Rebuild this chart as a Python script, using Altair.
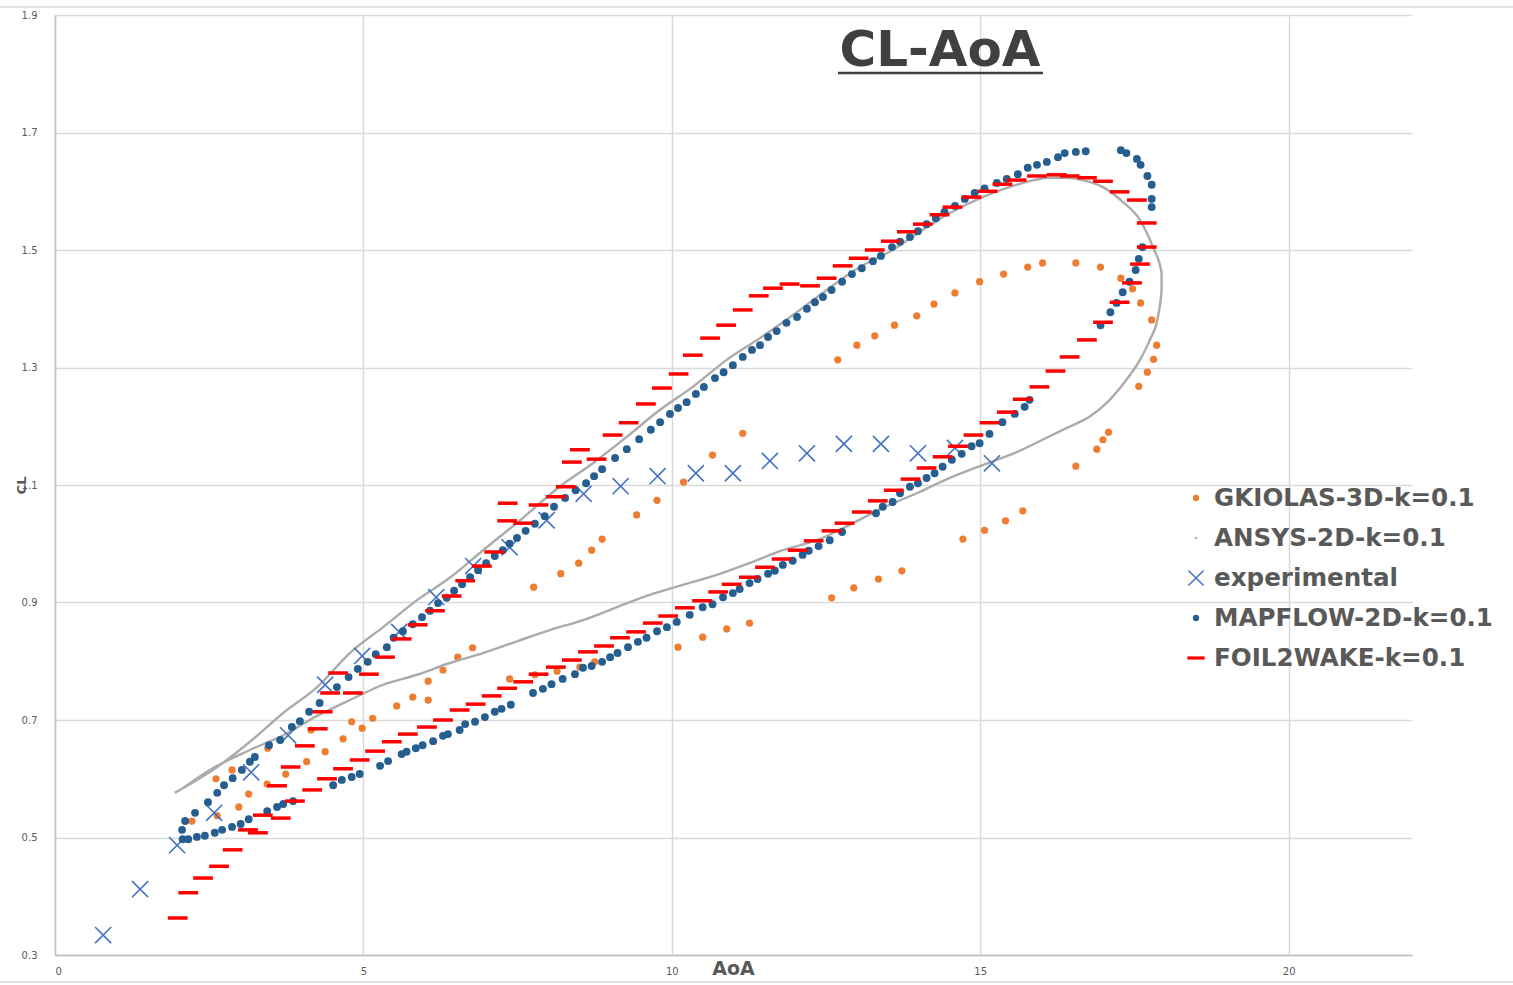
import altair as alt
import pandas as pd

# ---------------- series values (AoA in degrees, CL) ----------------
gkiolas_aoa = [2.22, 2.63, 2.98, 2.61, 2.87, 3.14, 3.44, 3.45, 3.74, 4.08, 4.15, 4.38, 4.67,
               4.81, 4.98, 5.15, 5.54, 5.80, 6.05, 6.05, 6.29, 6.53, 6.77,
               7.37, 7.78, 8.14, 8.51, 8.75,
               7.76, 8.20, 8.49, 8.70, 8.87, 9.43, 9.76, 10.19, 10.66, 11.15,
               10.10, 10.50, 10.89, 11.26,
               12.59, 12.95, 13.35, 13.73,
               14.72, 15.07, 15.41, 15.69,
               12.69, 13.00, 13.29, 13.61, 13.97, 14.25, 14.59, 14.99, 15.38, 15.77, 16.01,
               16.55, 16.95, 17.28, 17.47, 17.60, 17.78, 17.86, 17.81, 17.71, 17.57,
               17.08, 16.99, 16.89, 16.55]
gkiolas_cl = [0.528, 0.537, 0.552, 0.600, 0.615, 0.574, 0.591, 0.652, 0.608, 0.629, 0.683, 0.646, 0.668,
              0.697, 0.686, 0.703, 0.724, 0.739, 0.734, 0.766, 0.785, 0.807, 0.823,
              0.770, 0.777, 0.783, 0.790, 0.799,
              0.926, 0.949, 0.967, 0.989, 1.008, 1.049, 1.074, 1.105, 1.151, 1.188,
              0.824, 0.841, 0.855, 0.865,
              0.908, 0.925, 0.940, 0.954,
              1.008, 1.023, 1.039, 1.056,
              1.313, 1.338, 1.354, 1.372, 1.388, 1.408, 1.427, 1.446, 1.459, 1.471, 1.478,
              1.478, 1.471, 1.452, 1.434, 1.410, 1.381, 1.338, 1.314, 1.292, 1.268,
              1.190, 1.177, 1.161, 1.132]

ansys_aoa = [1.94, 2.63, 3.16, 3.70, 4.25, 4.78, 5.32, 5.87, 6.40, 6.94, 7.54, 8.18, 8.72,
             9.27, 9.81, 10.34, 10.89, 11.43, 11.96, 12.51, 13.05, 13.58, 14.02, 14.51,
             15.04, 15.59, 16.13, 16.40, 16.66, 16.99, 17.31, 17.59, 17.80, 17.94, 17.94,
             17.88, 17.75, 17.59, 17.37, 17.10, 16.77, 16.40, 16.01, 15.59, 15.04, 14.51,
             13.97, 13.42, 12.88, 12.35, 11.80, 11.26, 10.73, 10.18, 9.64, 9.11, 8.56,
             8.02, 7.49, 6.94, 6.40, 5.87, 5.32, 4.78, 4.25, 3.70, 3.16, 2.51, 2.03]
ansys_cl = [0.576, 0.620, 0.663, 0.712, 0.756, 0.814, 0.858, 0.904, 0.942, 0.989, 1.040, 1.097, 1.137,
            1.182, 1.228, 1.267, 1.313, 1.350, 1.389, 1.432, 1.471, 1.500, 1.531, 1.563,
            1.590, 1.611, 1.623, 1.623, 1.619, 1.607, 1.582, 1.551, 1.505, 1.461, 1.432,
            1.386, 1.347, 1.313, 1.279, 1.245, 1.216, 1.197, 1.177, 1.156, 1.134, 1.112,
            1.086, 1.061, 1.032, 1.006, 0.989, 0.967, 0.947, 0.930, 0.913, 0.892, 0.870,
            0.853, 0.834, 0.814, 0.797, 0.777, 0.760, 0.734, 0.707, 0.674, 0.649, 0.615, 0.581]

exp_aoa = [0.78, 1.38, 1.98, 2.58, 3.18, 3.78, 4.38, 4.98, 5.58, 6.18, 6.78, 7.37, 7.97,
           8.57, 9.17, 9.77, 10.39, 10.99, 11.59, 12.19, 12.79, 13.39, 13.99, 14.59, 15.19]
exp_cl = [0.334, 0.412, 0.487, 0.542, 0.611, 0.674, 0.760, 0.809, 0.850, 0.909, 0.962, 0.994, 1.040,
          1.085, 1.098, 1.115, 1.120, 1.120, 1.141, 1.154, 1.170, 1.170, 1.154, 1.163, 1.137]

mapflow_aoa = [2.06, 2.11, 2.27, 2.48, 2.63, 2.74, 2.88, 3.03, 3.16, 3.24, 3.47, 3.65, 3.84, 3.97,
               4.12, 4.29, 4.57, 4.76, 4.91, 5.07, 5.20, 5.38, 5.49, 5.64, 5.80, 5.95, 6.08,
               6.21, 6.35, 6.47, 6.60, 6.73, 6.86, 6.99, 7.13, 7.26, 7.37, 7.49, 7.63, 7.78,
               7.94, 8.09, 8.27, 8.44, 8.61, 8.74, 8.87, 9.08, 9.27, 9.47, 9.66, 9.81, 9.97,
               10.10, 10.24, 10.39, 10.52, 10.70, 10.84, 10.99, 11.15, 11.30, 11.43, 11.56,
               11.70, 11.86, 12.03, 12.19, 12.32, 12.45, 12.59, 12.76, 12.92, 13.08, 13.26,
               13.39, 13.57, 13.70, 13.86, 13.99, 14.13, 14.28, 14.42, 14.59, 14.75, 14.91,
               15.07, 15.27, 15.43, 15.61, 15.77, 15.92, 16.08, 16.26, 16.37, 16.55, 16.71,
               17.28, 17.37, 17.54, 17.60, 17.71, 17.78, 17.78, 17.78,
               17.63, 17.57, 17.52, 17.42, 17.31, 17.21, 17.11, 16.95,
               15.80, 15.72, 15.56, 15.36, 15.15, 14.99, 14.86, 14.70, 14.54, 14.39, 14.26,
               14.13, 13.99, 13.86, 13.70, 13.58, 13.42, 13.31, 12.76, 12.56, 12.38, 12.22,
               12.12, 11.96, 11.80, 11.67, 11.56, 11.39, 11.26, 11.10, 10.99, 10.83, 10.66,
               10.50, 10.29, 10.08, 9.92, 9.76, 9.59, 9.45, 9.29, 9.12, 9.00, 8.87, 8.70,
               8.56, 8.43, 8.23, 8.05, 7.91, 7.75, 7.39, 7.24, 7.13, 6.97, 6.81, 6.65, 6.56,
               6.37, 6.29, 6.13, 5.96, 5.85, 5.70, 5.62, 5.40, 5.27, 4.94, 4.81, 4.65, 4.51,
               3.86, 3.70, 3.60, 3.44, 3.14, 3.01, 2.87, 2.71, 2.59, 2.43, 2.30, 2.16, 2.07]
mapflow_cl = [0.513, 0.528, 0.542, 0.560, 0.576, 0.589, 0.601, 0.615, 0.629, 0.637, 0.657, 0.666,
              0.688, 0.698, 0.714, 0.729, 0.756, 0.773, 0.787, 0.799, 0.812, 0.824, 0.840,
              0.851, 0.863, 0.875, 0.886, 0.899, 0.908, 0.920, 0.931, 0.943, 0.955, 0.967,
              0.979, 0.989, 1.000, 1.010, 1.022, 1.034, 1.047, 1.063, 1.078, 1.091, 1.103,
              1.115, 1.127, 1.146, 1.161, 1.178, 1.194, 1.207, 1.221, 1.231, 1.241, 1.255,
              1.267, 1.282, 1.292, 1.304, 1.318, 1.330, 1.338, 1.352, 1.362, 1.376, 1.386,
              1.400, 1.411, 1.420, 1.432, 1.446, 1.459, 1.469, 1.481, 1.490, 1.505, 1.514,
              1.522, 1.532, 1.544, 1.554, 1.565, 1.575, 1.587, 1.597, 1.605, 1.614, 1.621,
              1.629, 1.640, 1.645, 1.650, 1.658, 1.665, 1.667, 1.668,
              1.670, 1.665, 1.655, 1.645, 1.626, 1.611, 1.587, 1.573,
              1.505, 1.485, 1.466, 1.446, 1.428, 1.410, 1.394, 1.372,
              1.245, 1.233, 1.221, 1.207, 1.187, 1.171, 1.166, 1.153, 1.143, 1.131, 1.120,
              1.112, 1.103, 1.097, 1.086, 1.071, 1.063, 1.052, 1.020, 1.006, 0.996, 0.988,
              0.981, 0.971, 0.964, 0.954, 0.949, 0.940, 0.933, 0.923, 0.916, 0.909, 0.897,
              0.892, 0.879, 0.867, 0.858, 0.851, 0.840, 0.833, 0.824, 0.814, 0.807, 0.799,
              0.792, 0.789, 0.778, 0.770, 0.761, 0.753, 0.746, 0.726, 0.719, 0.714, 0.705,
              0.697, 0.693, 0.683, 0.676, 0.673, 0.664, 0.657, 0.652, 0.646, 0.642, 0.630,
              0.622, 0.608, 0.603, 0.598, 0.589, 0.562, 0.557, 0.552, 0.545, 0.531, 0.523,
              0.518, 0.513, 0.508, 0.503, 0.501, 0.497, 0.497]

foil2wake_aoa = [1.99, 2.16, 2.40, 2.66, 2.88, 3.13, 3.37, 3.60, 3.82, 4.05, 4.26, 4.34, 4.46,
                 4.59, 4.83, 5.09, 5.35, 5.62, 5.88, 6.16, 6.43, 6.65, 6.92, 7.12, 7.33, 7.34,
                 7.59, 7.84, 8.12, 8.28, 8.38, 8.51, 8.78, 9.04, 9.30, 9.58, 9.84, 10.11,
                 10.34, 10.62, 10.88, 11.15, 11.41, 11.64, 11.91, 12.24, 12.51, 12.77, 13.03,
                 13.29, 13.55, 13.81, 14.07, 14.34, 14.55, 14.86, 15.12, 15.36, 15.59, 15.92,
                 16.24, 16.45, 16.73, 16.99, 17.26, 17.54, 17.70, 17.70,
                 17.59, 17.46, 17.26, 16.99, 16.73, 16.45, 16.22, 15.96, 15.69, 15.43, 15.15,
                 14.89, 14.64, 14.39, 14.13, 13.87, 13.60, 13.34, 13.08, 12.80, 12.59, 12.30,
                 12.04, 11.78, 11.51, 11.25, 10.97, 10.75, 10.49, 10.21, 9.94, 9.69, 9.42,
                 9.16, 8.90, 8.64, 8.38, 8.12, 7.84, 7.59, 7.33, 7.08, 6.82, 6.56, 6.29, 6.03,
                 5.72, 5.46, 5.19, 4.94, 4.67, 4.41, 4.17, 3.89, 3.66, 3.29]
foil2wake_cl = [0.363, 0.406, 0.431, 0.451, 0.479, 0.513, 0.538, 0.588, 0.620, 0.656, 0.685, 0.714,
                0.746, 0.780, 0.746, 0.778, 0.807, 0.838, 0.862, 0.886, 0.911, 0.937, 0.962,
                0.986, 1.039, 1.069, 1.035, 1.066, 1.080, 1.097, 1.139, 1.160, 1.144, 1.185,
                1.206, 1.238, 1.265, 1.289, 1.321, 1.350, 1.372, 1.398, 1.422, 1.435, 1.442,
                1.439, 1.452, 1.473, 1.486, 1.500, 1.515, 1.531, 1.544, 1.560, 1.573, 1.590,
                1.600, 1.612, 1.619, 1.626, 1.628, 1.626, 1.623, 1.617, 1.599, 1.585, 1.546,
                1.505,
                1.476, 1.444, 1.411, 1.377, 1.347, 1.318, 1.294, 1.267, 1.246, 1.224, 1.206,
                1.185, 1.166, 1.148, 1.129, 1.110, 1.091, 1.073, 1.054, 1.035, 1.022, 1.005,
                0.989, 0.974, 0.960, 0.943, 0.931, 0.918, 0.903, 0.891, 0.877, 0.865, 0.850,
                0.840, 0.826, 0.816, 0.802, 0.790, 0.778, 0.765, 0.754, 0.741, 0.727, 0.717,
                0.700, 0.688, 0.676, 0.663, 0.647, 0.632, 0.617, 0.600, 0.581, 0.562, 0.533,
                0.508]

x_ticks = [0, 5, 10, 15, 20]
y_ticks = [0.3, 0.5, 0.7, 0.9, 1.1, 1.3, 1.5, 1.7, 1.9]

series_names = ["GKIOLAS-3D-k=0.1", "ANSYS-2D-k=0.1", "experimental",
                "MAPFLOW-2D-k=0.1", "FOIL2WAKE-k=0.1"]

# ---------------- styling ----------------
W, H = 1357, 940
TEXT_GREY = "#595959"
C_ORANGE = "#ED7D31"
C_GREY = "#ABABAB"
C_XBLUE = "#4472C4"
C_DBLUE = "#265E90"
C_RED = "#FF0000"
X_PATH = "M-1,-1L1,1M-1,1L1,-1"
DASH_PATH = "M-1,0L1,0"

x_scale = alt.Scale(domain=[0, 22], nice=False, zero=False)
y_scale = alt.Scale(domain=[0.3, 1.9], nice=False, zero=False)

x_axis = alt.Axis(values=x_ticks, title="AoA", grid=True, ticks=False,
                  labelFontSize=10, labelColor=TEXT_GREY, labelPadding=11,
                  labelFont="DejaVu Sans",
                  titleFont="DejaVu Sans", titleFontSize=19, titleFontWeight="bold",
                  titleColor=TEXT_GREY, titleX=678, titleY=13, titleBaseline="middle",
                  titleAlign="center")
y_axis = alt.Axis(values=y_ticks, format=".1f", title="CL", grid=True, ticks=False,
                  labelFontSize=10, labelColor=TEXT_GREY, labelPadding=18,
                  labelFont="DejaVu Sans",
                  titleFont="DejaVu Sans", titleFontSize=13, titleFontWeight="bold",
                  titleColor=TEXT_GREY, titleX=-34, titleY=470, titleAngle=270,
                  titleBaseline="middle", titleAlign="center")


def frame(aoa, cl):
    return pd.DataFrame({"AoA": aoa, "CL": cl, "idx": list(range(len(aoa)))})


def xy():
    return dict(x=alt.X("AoA:Q", scale=x_scale, axis=x_axis),
                y=alt.Y("CL:Q", scale=y_scale, axis=y_axis))


gkiolas = alt.Chart(frame(gkiolas_aoa, gkiolas_cl)).mark_point(
    filled=True, shape="circle", size=52, color=C_ORANGE, opacity=1).encode(**xy())

ansys = alt.Chart(frame(ansys_aoa, ansys_cl)).mark_line(
    color=C_GREY, strokeWidth=2.4, interpolate="monotone").encode(
    order="idx:Q", **xy())

experimental = alt.Chart(frame(exp_aoa, exp_cl)).mark_point(
    shape=X_PATH, filled=False, size=260, strokeWidth=1.6, color=C_XBLUE,
    opacity=1).encode(**xy())

mapflow = alt.Chart(frame(mapflow_aoa, mapflow_cl)).mark_point(
    filled=True, shape="circle", size=62, color=C_DBLUE, opacity=1).encode(**xy())

foil2wake = alt.Chart(frame(foil2wake_aoa, foil2wake_cl)).mark_point(
    shape=DASH_PATH, filled=False, size=390, strokeWidth=3.5, color=C_RED,
    opacity=1).encode(**xy())

# ---------------- legend (drawn by hand, right side of the plot) ----------------
one = pd.DataFrame({"k": [0]})
legend_layers = []
legend_y0, legend_dy = 483, 40
marker_x, text_x = 1141, 1159
marker_styles = [
    dict(shape="circle", filled=True, size=40, color=C_ORANGE),
    dict(shape="circle", filled=True, size=6, color=C_GREY),
    dict(shape=X_PATH, filled=False, size=230, strokeWidth=1.5, color=C_XBLUE),
    dict(shape="circle", filled=True, size=40, color=C_DBLUE),
    dict(shape=DASH_PATH, filled=False, size=300, strokeWidth=3.2, color=C_RED),
]
for i, (name, style) in enumerate(zip(series_names, marker_styles)):
    yy = legend_y0 + i * legend_dy
    legend_layers.append(
        alt.Chart(one).mark_point(opacity=1, **style).encode(
            x=alt.value(marker_x), y=alt.value(yy)))
    legend_layers.append(
        alt.Chart(one).mark_text(text=name, align="left", baseline="middle",
                                 font="DejaVu Sans", fontWeight="bold", fontSize=24.6,
                                 color=TEXT_GREY).encode(
            x=alt.value(text_x), y=alt.value(yy + 1)))

# ---------------- chart title with underline ----------------
title = alt.Chart(one).mark_text(text="CL-AoA", align="center", baseline="middle",
                                 font="DejaVu Sans", fontWeight="bold", fontSize=50,
                                 color="#404040").encode(
    x=alt.value(885), y=alt.value(36))
underline = alt.Chart(one).mark_rule(color="#404040", strokeWidth=2.5).encode(
    x=alt.value(783), x2=alt.value(988), y=alt.value(58))

# thin frame lines above and below the chart body
top_line = alt.Chart(one).mark_rule(color="#D9D9D9", strokeWidth=1.5).encode(
    x=alt.value(-55), x2=alt.value(1458), y=alt.value(-8))
bottom_line = alt.Chart(one).mark_rule(color="#D9D9D9", strokeWidth=1.5).encode(
    x=alt.value(-55), x2=alt.value(1458), y=alt.value(967))

chart = alt.layer(
    gkiolas, ansys, experimental, mapflow, foil2wake,
    *legend_layers, title, underline, top_line, bottom_line
).properties(
    width=W, height=H,
    autosize=alt.AutoSizeParams(type="none"),
    padding={"left": 55, "top": 15, "right": 101, "bottom": 30},
    background="white",
).configure_view(
    stroke=None, clip=False
).configure_axis(
    gridColor="#D9D9D9", gridWidth=1.5, domainColor="#BFBFBF", domainWidth=1.5,
)

chart.save("out.html", embed_options={"renderer": "svg", "actions": False})
